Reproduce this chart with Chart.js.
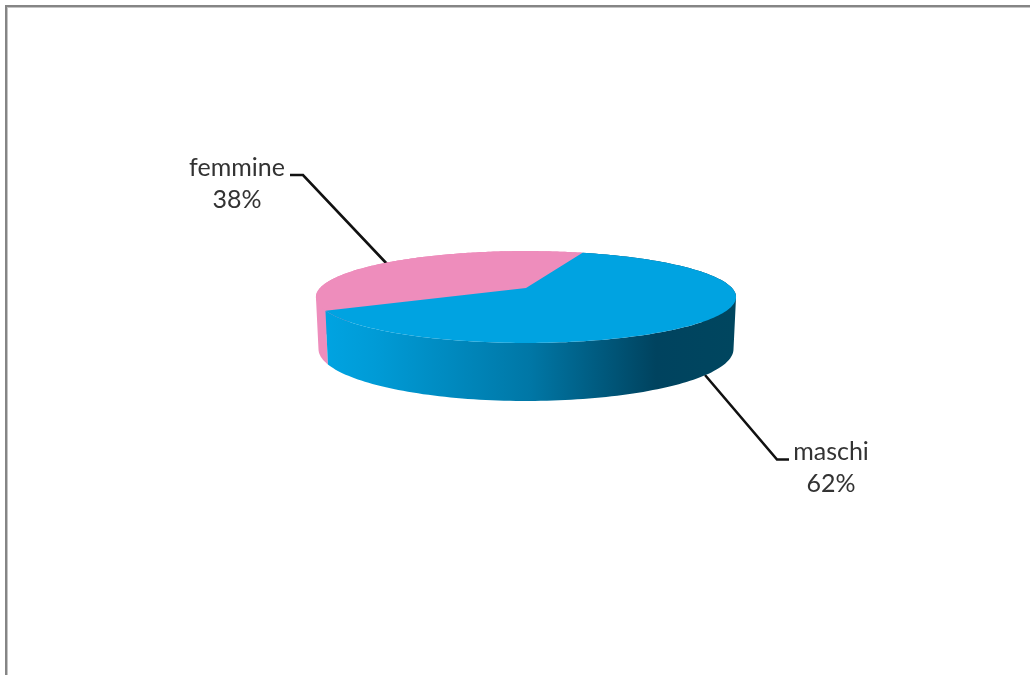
<!DOCTYPE html>
<html>
<head>
<meta charset="utf-8">
<title>maschi femmine</title>
<script src="https://cdn.jsdelivr.net/npm/chart.js@4"></script>
<style>
    html, body { margin: 0; padding: 0; background: #fff; overflow: hidden; }
    #frame { position: absolute; left: 5px; top: 5px; width: 1100px; height: 800px; border-top: 2px solid #858585; border-left: 2px solid #858585; box-shadow: inset 1px 1px 0 #c4c4c4; }
    #myPieChart { position: absolute; left: 0; top: 0; }
</style>
</head>
<body>
<div id="frame"></div>
<canvas id="myPieChart" width="1030" height="675"></canvas>
<script>
var categories = ['maschi', 'femmine'];
var values = [62, 38];
var topColors = ['#00a3e1', '#ee8dbc'];
var firstSliceAngle = 19;

// the two faces of the disc, seen in perspective
var topFace = { x0: 526, y0: 288, a: 44.2, b: 206, k: -0.1957 };
var bottomFace = { x0: 526, y0: 338.8, a: 50, b: 203.5, k: -0.1957 };

// label anchor and leader line for each slice
var labelBoxes = [
    { x: 831, y: 460, line: [[705, 375], [777, 459.5], [789, 459.5]] },
    { x: 237, y: 176, line: [[290, 175], [303, 175], [388, 265]] }
];

function project(face, angle) {
    var t = angle + Math.PI / 2;
    var u = Math.sin(t);
    var v = -Math.cos(t);
    var d = 1 + face.k * v;
    return [face.x0 + face.b * u / d, face.y0 + face.a * v / d];
}

function arcPoints(face, start, end) {
    var pts = [];
    for (var i = 0; i <= 160; i++) {
        pts.push(project(face, start + (end - start) * i / 160));
    }
    return pts;
}

function addLine(ctx, pts) {
    pts.forEach(function (p) {
        ctx.lineTo(p[0], p[1]);
    });
}

// one quad of the wall, always wound the same way so the fill never cancels
function addQuad(ctx, q) {
    var area = 0;
    q.forEach(function (p, i) {
        var n = q[(i + 1) % 4];
        area += p[0] * n[1] - n[0] * p[1];
    });
    var pts = area < 0 ? q.slice().reverse() : q;
    ctx.moveTo(pts[0][0], pts[0][1]);
    addLine(ctx, pts.slice(1));
    ctx.closePath();
}

function wallFill(ctx, index) {
    if (index == 1) return '#ee8dbc';
    var g = ctx.createLinearGradient(327, 0, 733, 0);
    g.addColorStop(0, '#00a3e1');
    g.addColorStop(0.12, '#009bd6');
    g.addColorStop(0.5, '#0077a6');
    g.addColorStop(0.81, '#00435f');
    g.addColorStop(1, '#00465f');
    return g;
}

var pie3d = {
    id: 'pie3d',
    beforeDatasetsDraw: function (chart) {
        var ctx = chart.ctx;
        var arcs = chart.getDatasetMeta(0).data;

        ctx.save();
        ctx.strokeStyle = '#111';
        ctx.lineWidth = 2.6;
        labelBoxes.forEach(function (box) {
            ctx.beginPath();
            addLine(ctx, box.line);
            ctx.stroke();
        });

        // side walls, femmine first so maschi sits in front of it
        [1, 0].forEach(function (i) {
            var top = arcPoints(topFace, arcs[i].startAngle, arcs[i].endAngle);
            var bottom = arcPoints(bottomFace, arcs[i].startAngle, arcs[i].endAngle);
            ctx.beginPath();
            for (var j = 0; j < top.length - 1; j++) {
                addQuad(ctx, [top[j], top[j + 1], bottom[j + 1], bottom[j]]);
            }
            ctx.fillStyle = wallFill(ctx, i);
            ctx.fill();
        });

        // top faces
        [1, 0].forEach(function (i) {
            ctx.beginPath();
            ctx.moveTo(topFace.x0, topFace.y0);
            addLine(ctx, arcPoints(topFace, arcs[i].startAngle, arcs[i].endAngle));
            ctx.closePath();
            ctx.fillStyle = arcs[i].options.backgroundColor;
            ctx.fill();
        });

        ctx.fillStyle = '#333';
        ctx.font = '25px Lato';
        ctx.textAlign = 'center';
        categories.forEach(function (name, i) {
            ctx.fillText(name, labelBoxes[i].x, labelBoxes[i].y);
            ctx.fillText(values[i] + '%', labelBoxes[i].x, labelBoxes[i].y + 32);
        });
        ctx.restore();
        return false;
    }
};

var config_pie = {
    type: 'pie',
    data: {
        labels: categories,
        datasets: [{
            data: values,
            backgroundColor: topColors,
            borderWidth: 0
        }]
    },
    options: {
        responsive: false,
        animation: false,
        rotation: firstSliceAngle,
        plugins: {
            legend: { display: false },
            tooltip: { enabled: false }
        }
    },
    plugins: [pie3d]
};

var myChart = new Chart(document.getElementById('myPieChart'), config_pie);
</script>
</body>
</html>
